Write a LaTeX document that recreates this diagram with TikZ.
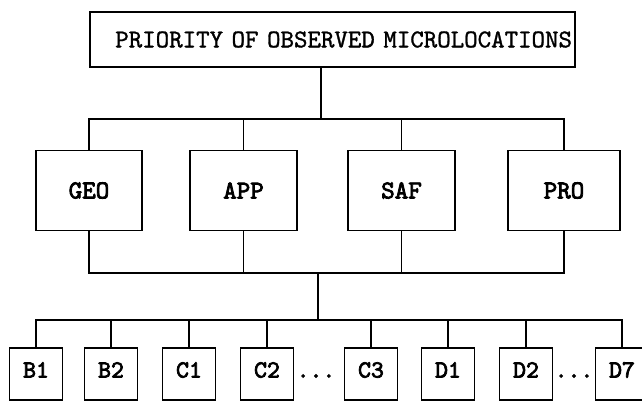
\documentclass[tikz,border=0pt]{standalone}
\usepackage{fontspec}
\newfontfamily\labelfont{lmmono10-regular.otf}[FakeBold=3]
\newfontfamily\headfont{lmmono10-regular.otf}[FakeBold=1.2]
\begin{document}
\begin{tikzpicture}[x=0.03cm,y=-0.03cm,line width=1.6pt,
    titlebox/.style={draw,inner ysep=0pt,inner xsep=0.09cm,text width=14.37cm,minimum height=1.65cm,align=right,
      font=\headfont\fontsize{21.9}{24}\selectfont},
    groupbox/.style={draw,inner sep=0pt,minimum width=3.2cm,minimum height=2.4cm,
      font=\labelfont\fontsize{22}{24}\selectfont},
    leafbox/.style={draw,inner sep=0pt,minimum width=1.59cm,minimum height=1.56cm,text height=1.4ex,text depth=0pt,
      font=\labelfont\fontsize{21}{23}\selectfont},
    leafdots/.style={inner sep=0pt,text height=1.4ex,text depth=0pt,
      font=\labelfont\fontsize{21}{23}\selectfont}]
  \useasboundingbox (0,0) rectangle (642,407);
  \node [titlebox] (title) at (332.5,39.5) {PRIORITY OF OBSERVED MICROLOCATIONS};
  \node [groupbox] (geo) at (89,190.5) {GEO};
  \node [groupbox] (app) at (243.5,190.5) {APP};
  \node [groupbox] (saf) at (401.5,190.5) {SAF};
  \node [groupbox,minimum width=3.36cm] (pro) at (564,190.5) {PRO};
  \node [leafbox] (b1) at (36,374) {B1};
  \node [leafbox] (b2) at (111,374) {B2};
  \node [leafbox] (c1) at (189,374) {C1};
  \node [leafbox] (c2) at (267,374) {C2};
  \node [leafdots] (dotsc) at (316,374) {...};
  \node [leafbox] (c3) at (371,374) {C3};
  \node [leafbox] (d1) at (448,374) {D1};
  \node [leafbox] (d2) at (526,374) {D2};
  \node [leafdots] (dotsd) at (574,374) {...};
  \node [leafbox] (d7) at (622,374) {D7};
  \coordinate (topbus) at (321,119);
  \coordinate (midbus) at (318,273);
  \coordinate (lowbus) at (318,320);
  \draw (topbus |- title.south) -- (topbus);
  \draw (geo.north) |- (topbus) -| (pro.north);
  \draw (geo.south) |- (midbus) -| (pro.south);
  \foreach \g in {app,saf} {
    \draw (\g.north) -- (\g.north |- topbus);
    \draw (\g.south) -- (\g.south |- midbus);
  }
  \draw (midbus) -- (lowbus);
  \draw (b1.north) |- (lowbus) -| (d7.north);
  \foreach \l in {b2,c1,c2,c3,d1,d2}
    \draw (\l.north) -- (\l.north |- lowbus);
\end{tikzpicture}
\end{document}
